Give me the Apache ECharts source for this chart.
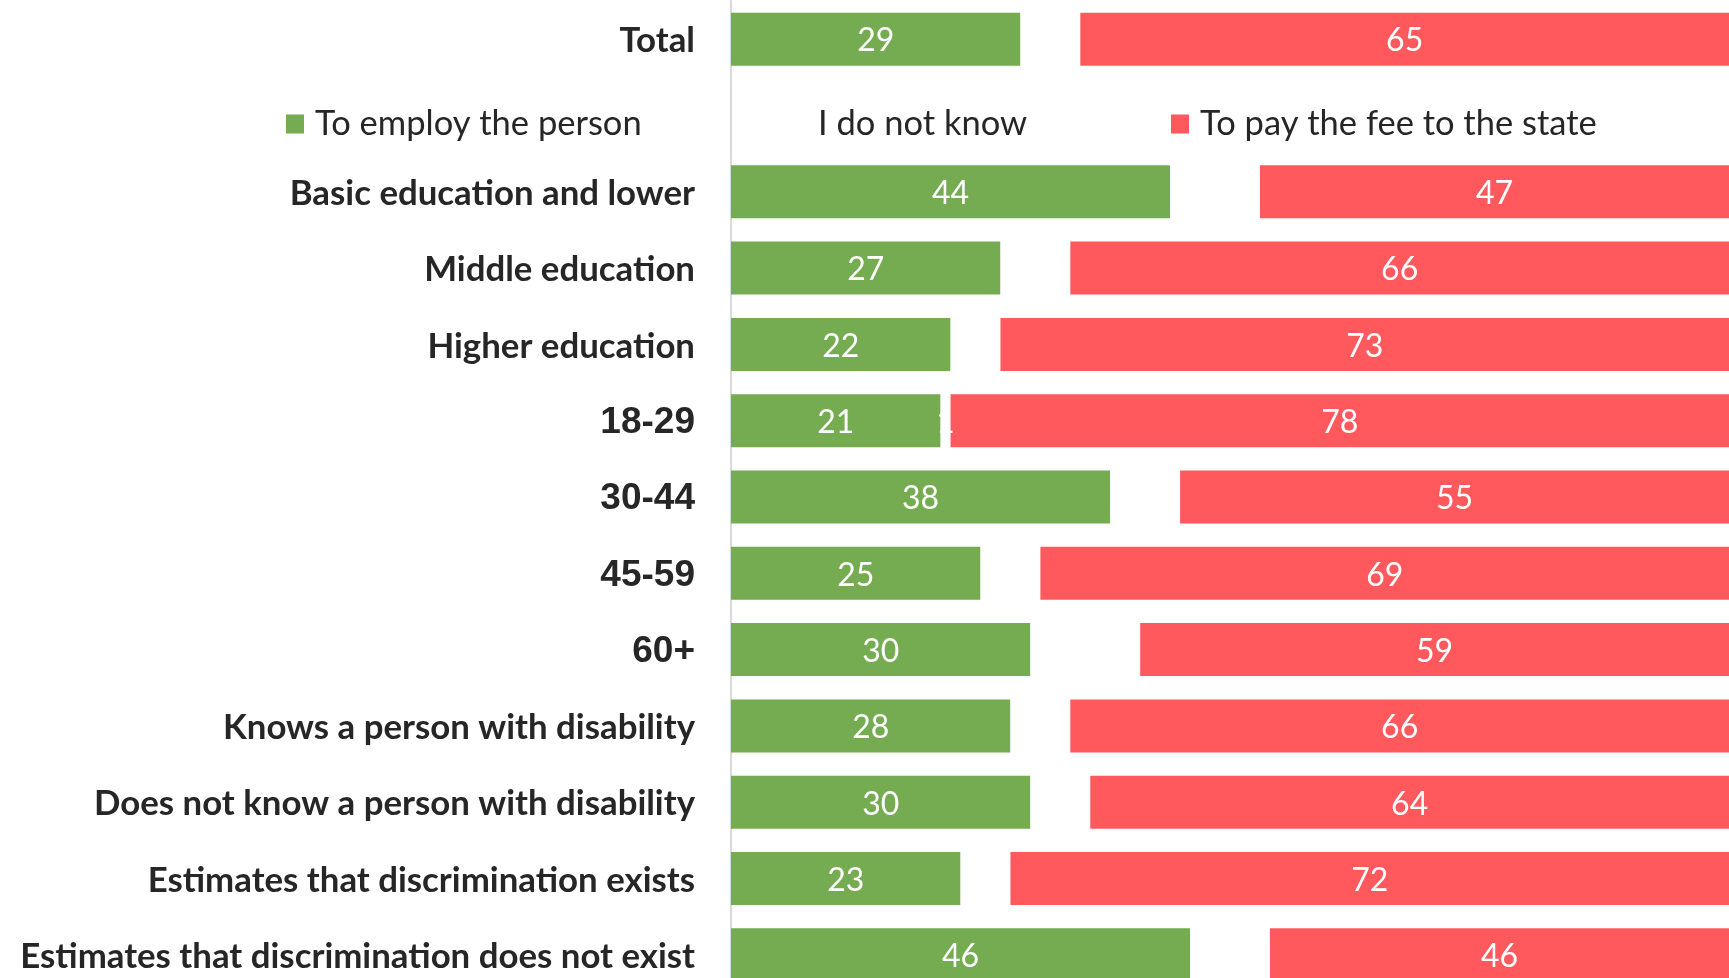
<!DOCTYPE html>
<html>
<head>
<meta charset="utf-8">
<title>Employ the person or pay the fee</title>
<script src="https://cdn.jsdelivr.net/npm/echarts@6/dist/echarts.min.js"></script>
<style>
  html, body { margin: 0; padding: 0; background: #ffffff; overflow: hidden; }
  /* the last row runs slightly past the bottom of the window */
  #chart { width: 1729px; height: 994px; }
</style>
</head>
<body>
<div id="chart"></div>
<script>
// Groups, top to bottom; the empty slot holds the legend row
const categories = [
  'Total',
  '',
  'Basic education and lower',
  'Middle education',
  'Higher education',
  '18-29',
  '30-44',
  '45-59',
  '60+',
  'Knows a person with disability',
  'Does not know a person with disability',
  'Estimates that discrimination exists',
  'Estimates that discrimination does not exist'
];

// Shares in percent
const employPerson = [29, null, 44, 27, 22, 21, 38, 25, 30, 28, 30, 23, 46];
const doNotKnow    = [6,  null, 9,  7,  5,  1,  7,  6,  11, 6,  6,  5,  8];
const payFee       = [65, null, 47, 66, 73, 78, 55, 69, 59, 66, 64, 72, 46];

const seriesNames = ['To employ the person', 'I do not know', 'To pay the fee to the state'];
const ageGroups = ['18-29', '30-44', '45-59', '60+'];

const GREEN = '#75AB51';
const RED = '#FF595E';
const TEXT = '#262626';

const chart = echarts.init(document.getElementById('chart'), null, { renderer: 'canvas' });

const barLabel = {
  show: true,
  position: 'inside',
  offset: [0, 2],
  color: '#ffffff',
  fontFamily: 'Lato',
  fontSize: 32
};

function legendAt(name, left, iconColor) {
  return {
    data: [{ name: name, itemStyle: { color: iconColor } }],
    left: left,
    top: 104,
    padding: 0,
    orient: 'horizontal',
    icon: 'rect',
    itemWidth: 18,
    itemHeight: 19,
    selectedMode: false,
    textStyle: {
      color: TEXT,
      fontFamily: 'Lato',
      fontSize: 34.5,
      lineHeight: 40,
      padding: [0, 0, 0, 6]
    }
  };
}

chart.setOption({
  animation: false,
  backgroundColor: '#ffffff',
  legend: [
    legendAt(seriesNames[0], 286, GREEN),
    legendAt(seriesNames[1], 789, '#ffffff'),
    legendAt(seriesNames[2], 1171, RED)
  ],
  grid: {
    left: 731,
    top: 1,
    right: 0,
    bottom: 1,
    containLabel: false
  },
  xAxis: {
    type: 'value',
    min: 0,
    max: 100,
    show: false
  },
  yAxis: {
    type: 'category',
    data: categories,
    inverse: true,
    axisTick: { show: false },
    splitLine: { show: false },
    axisLine: { show: true, lineStyle: { color: '#d9d9d9', width: 2 } },
    axisLabel: {
      margin: 36,
      color: TEXT,
      fontFamily: 'Lato',
      fontWeight: 'bold',
      fontSize: 34.8,
      padding: [4, 0, 0, 0],
      formatter: function (v) {
        return ageGroups.indexOf(v) >= 0 ? '{age|' + v + '}' : v;
      },
      rich: {
        age: {
          color: TEXT,
          fontFamily: 'Liberation Sans',
          fontWeight: 'bold',
          fontSize: 37
        }
      }
    }
  },
  series: [
    {
      name: seriesNames[0],
      type: 'bar',
      stack: 'share',
      barWidth: 53,
      data: employPerson,
      itemStyle: { color: GREEN },
      label: barLabel
    },
    {
      name: seriesNames[1],
      type: 'bar',
      stack: 'share',
      barWidth: 53,
      data: doNotKnow,
      itemStyle: { color: '#ffffff' },
      label: barLabel
    },
    {
      name: seriesNames[2],
      type: 'bar',
      stack: 'share',
      barWidth: 53,
      data: payFee,
      itemStyle: { color: RED },
      label: barLabel
    }
  ]
});
</script>
</body>
</html>
